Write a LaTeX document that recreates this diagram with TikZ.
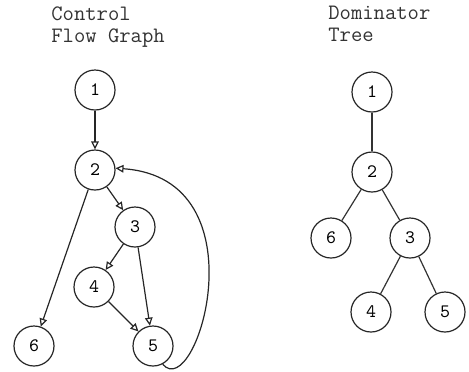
\documentclass[tikz,border=0pt]{standalone}
\usetikzlibrary{arrows.meta,positioning}

\begin{document}
\begin{tikzpicture}[
  >={Triangle[open,length=4pt,width=3.8pt]},
  on grid,
  block/.style={circle,draw=black!85,line width=0.6pt,minimum size=20pt,inner sep=0pt,
    font=\ttfamily\fontsize{9.5}{10}\selectfont},
  heading/.style={anchor=north west,align=left,inner sep=0pt,text=black!80,
    font=\ttfamily\fontsize{11}{11}\selectfont},
  flow/.style={->,line width=0.6pt,draw=black!85},
  link/.style={line width=0.6pt,draw=black!80}
]
  \useasboundingbox (0,0) rectangle (234.5pt,-185.5pt);

  % control flow graph
  \node[heading] (cfgtitle) at (25.5pt,-3pt) {Control\\Flow Graph};
  \node[block] (c1) at (47.5pt,-45pt) {1};
  \node[block,below=40pt of c1] (c2) {2};
  \node[block,below right=28.5pt and 20pt of c2] (c3) {3};
  \node[block,below left=30pt and 20.5pt of c3] (c4) {4};
  \node[block,below right=29.5pt and 29.5pt of c4] (c5) {5};
  \node[block,below left=88pt and 30.5pt of c2] (c6) {6};

  \draw[flow] (c1) -- (c2);
  \draw[flow] (c2) -- (c3);
  \draw[flow] (c2) -- (c6);
  \draw[flow] (c3) -- (c4);
  \draw[flow] (c3) -- (c5);
  \draw[flow] (c4) -- (c5);
  \draw[flow] (c5.-62) .. controls +(17pt,-20pt) and +(74.5pt,-5pt) .. (c2.5);

  % dominator tree
  \node[heading] (domtitle) at (164pt,-3pt) {Dominator\\Tree};
  \node[block] (d1) at (186pt,-46pt) {1};
  \node[block,below=40pt of d1] (d2) {2};
  \node[block,below left=33pt and 20.5pt of d2] (d6) {6};
  \node[block,below right=33pt and 19pt of d2] (d3) {3};
  \node[block,below left=37pt and 19.5pt of d3] (d4) {4};
  \node[block,below right=37pt and 17.5pt of d3] (d5) {5};

  \draw[link] (d1) -- (d2);
  \draw[link] (d2) -- (d6);
  \draw[link] (d2) -- (d3);
  \draw[link] (d3) -- (d4);
  \draw[link] (d3) -- (d5);
\end{tikzpicture}
\end{document}
